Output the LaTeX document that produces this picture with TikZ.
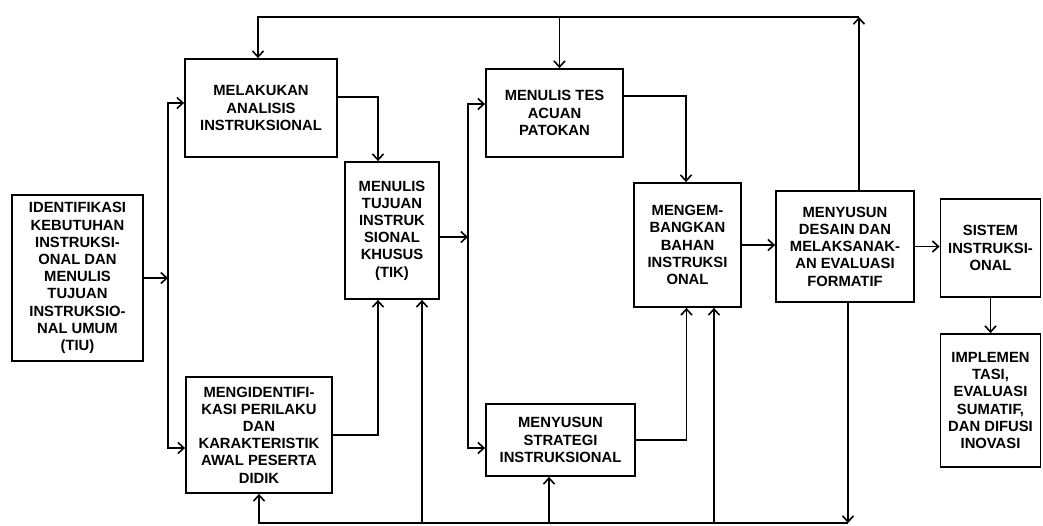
\documentclass[tikz,border=0pt]{standalone}
\usepackage{fontspec}
\setmainfont{Liberation Sans}
\usetikzlibrary{arrows.meta,positioning}

\begin{document}
\begin{tikzpicture}[x=1pt,y=-1pt,
    b/.style={draw,line width=1.8pt,inner sep=0pt,align=center,
      font=\fontsize{14.8}{17.2}\selectfont\bfseries},
    a/.style={-{Straight Barb[length=6pt,width=11pt]},line width=1.6pt}]
    \useasboundingbox (0,0) rectangle (1043,525);
    \node[b,minimum width=131pt,minimum height=166pt] (tiu) at (77.5,278) {IDENTIFIKASI\\KEBUTUHAN\\INSTRUKSI-\\ONAL DAN\\MENULIS\\TUJUAN\\INSTRUKSIO-\\NAL UMUM\\(TIU)};
    \node[b,minimum width=152pt,minimum height=98pt] (analisis) at (261,108) {MELAKUKAN\\ANALISIS\\INSTRUKSIONAL};
    \node[b,minimum width=146pt,minimum height=116pt] (perilaku) at (259,435) {MENGIDENTIFI-\\KASI PERILAKU\\DAN\\KARAKTERISTIK\\AWAL PESERTA\\DIDIK};
    \node[b,minimum width=94pt,minimum height=137pt] (tik) at (392,230.5) {MENULIS\\TUJUAN\\INSTRUK\\SIONAL\\KHUSUS\\(TIK)};
    \node[b,minimum width=137pt,minimum height=88pt] (tes) at (554.5,113) {MENULIS TES\\ACUAN\\PATOKAN};
    \node[b,minimum width=149pt,minimum height=72pt] (strategi) at (560.5,440) {MENYUSUN\\STRATEGI\\INSTRUKSIONAL};
    \node[b,minimum width=107pt,minimum height=124pt] (bahan) at (687.5,245) {MENGEM-\\BANGKAN\\BAHAN\\INSTRUKSI\\ONAL};
    \node[b,minimum width=138pt,minimum height=111pt] (formatif) at (845,246.5) {MENYUSUN\\DESAIN DAN\\MELAKSANAK-\\AN EVALUASI\\FORMATIF};
    \node[b,minimum width=100pt,minimum height=98pt] (sistem) at (990.5,248) {SISTEM\\INSTRUKSI-\\ONAL};
    \node[b,minimum width=100pt,minimum height=133pt] (implementasi) at (990.5,400.5) {IMPLEMEN\\TASI,\\EVALUASI\\SUMATIF,\\DAN DIFUSI\\INOVASI};
    % bus lines
    \coordinate (s1) at (168,278);
    \coordinate (s2) at (468,237);
    \coordinate (top) at (859,17);
    \coordinate (bot) at (848,523);
    \draw[a] (tiu.east |- s1) -- (s1);
    \draw[a] (s1) |- ([yshift=5pt]analisis.west);
    \draw[a] (s1) |- ([yshift=-13pt]perilaku.west);
    \draw[a] ([yshift=11pt]analisis.east) -| ([xshift=-14pt]tik.north);
    \draw[a] (perilaku.east) -| ([xshift=-14pt]tik.south);
    \draw[a] (tik.east |- s2) -- (s2);
    \draw[a] (s2) |- ([yshift=9pt]tes.west);
    \draw[a] (s2) |- ([yshift=-8pt]strategi.west);
    \draw[a] ([yshift=17pt]tes.east) -| ([xshift=-1.5pt]bahan.north);
    \draw[a] (strategi.east) -| ([xshift=-1pt]bahan.south);
    \draw[a] (bahan.east) -- (bahan.east -| formatif.west);
    \draw[a] (formatif.east) -- (formatif.east -| sistem.west);
    \draw[a] (sistem) -- (implementasi);
    % feedback lines
    \draw[a] ([xshift=14pt]formatif.north) -- (top);
    \draw[a] (top) -| ([xshift=-3pt]analisis.north);
    \draw[a] ([xshift=5pt]tes.north |- top) -- ([xshift=5pt]tes.north);
    \draw[a] ([xshift=3pt]formatif.south) -- (bot);
    \draw[a] (bot) -| (perilaku.south);
    \draw[a] ([xshift=30pt]tik.south |- bot) -- ([xshift=30pt]tik.south);
    \draw[a] ([xshift=-11.5pt]strategi.south |- bot) -- ([xshift=-11.5pt]strategi.south);
    \draw[a] ([xshift=26.5pt]bahan.south |- bot) -- ([xshift=26.5pt]bahan.south);
\end{tikzpicture}
\end{document}
